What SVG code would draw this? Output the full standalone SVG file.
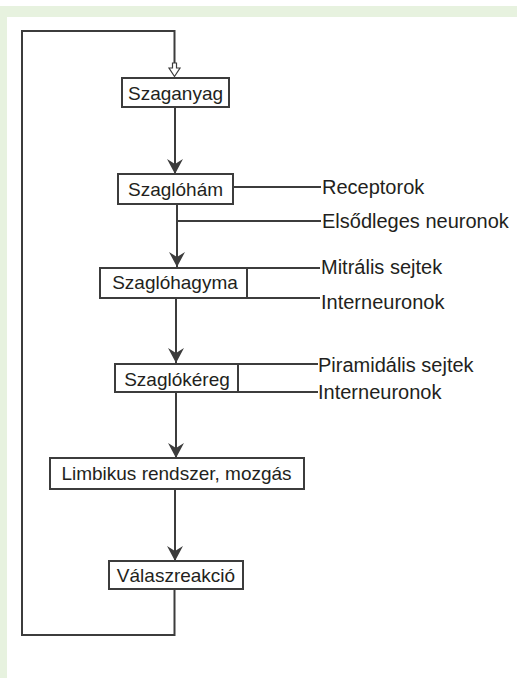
<svg xmlns="http://www.w3.org/2000/svg" width="517" height="678" viewBox="0 0 517 678">
<style>
.box{fill:#fff;stroke:#3c3c3c;stroke-width:2}
.ln{fill:none;stroke:#3c3c3c;stroke-width:2}
.t{font-family:"Liberation Sans",Arial,sans-serif;font-size:19px;fill:#231f20}
.l{font-size:20px}
.c{text-anchor:middle}
</style>
<defs>
<marker id="ah" markerUnits="userSpaceOnUse" markerWidth="16" markerHeight="16" viewBox="0 -8 15 16" refX="15" refY="0" orient="auto">
<path d="M0,-8 L15,0 L0,8 L5,0 Z" fill="#3c3c3c"/>
</marker>
</defs>
<rect x="0" y="0" width="517" height="678" fill="#fff"/>
<rect x="0" y="6" width="517" height="11" fill="#e7f2df"/>
<rect x="0" y="17" width="7" height="661" fill="#e7f2df"/>
<g id="connectors">
<path class="ln" d="M174.5,589 V635 H22 V31 H174.5 V63"/>
<path d="M172.5,63 H176.5 V68 H180 L174.5,76.5 L169,68 H172.5 Z" fill="#fff" stroke="#3c3c3c" stroke-width="1.2"/>
<path class="ln" d="M175,107 V174" marker-end="url(#ah)"/>
<path class="ln" d="M177,204 V267" marker-end="url(#ah)"/>
<path class="ln" d="M176,298 V363" marker-end="url(#ah)"/>
<path class="ln" d="M176,392 V458" marker-end="url(#ah)"/>
<path class="ln" d="M175,489 V561" marker-end="url(#ah)"/>
<path class="ln" d="M233,187 H321"/>
<path class="ln" d="M177,221 H321"/>
<path class="ln" d="M247,268 H320"/>
<path class="ln" d="M247,298 H320"/>
<path class="ln" d="M238,364 H318"/>
<path class="ln" d="M238,392 H318"/>
</g>
<g id="n-szaganyag"><rect class="box" x="122" y="78" width="107" height="29"/><text class="t c" x="175.5" y="100">Szaganyag</text></g>
<g id="n-szaglohams"><rect class="box" x="118" y="174" width="115" height="30"/><text class="t c" x="175.5" y="196">Szaglóhám</text></g>
<g id="n-szaglohagyma"><rect class="box" x="100" y="268" width="147" height="30"/><text class="t c" x="175" y="289">Szaglóhagyma</text></g>
<g id="n-szaglokereg"><rect class="box" x="115" y="364" width="123" height="28"/><text class="t c" x="177" y="386">Szaglókéreg</text></g>
<g id="n-limbikus"><rect class="box" x="50" y="458" width="254" height="31"/><text class="t c" x="176.5" y="480">Limbikus rendszer, mozgás</text></g>
<g id="n-valasz"><rect class="box" x="109" y="561" width="134" height="28"/><text class="t c" x="176" y="582">Válaszreakció</text></g>
<g id="labels">
<text class="t l" x="322" y="194">Receptorok</text>
<text class="t l" x="322" y="228">Elsődleges neuronok</text>
<text class="t l" x="321" y="274">Mitrális sejtek</text>
<text class="t l" x="321" y="309">Interneuronok</text>
<text class="t l" x="318" y="372">Piramidális sejtek</text>
<text class="t l" x="318" y="399">Interneuronok</text>
</g>
</svg>
